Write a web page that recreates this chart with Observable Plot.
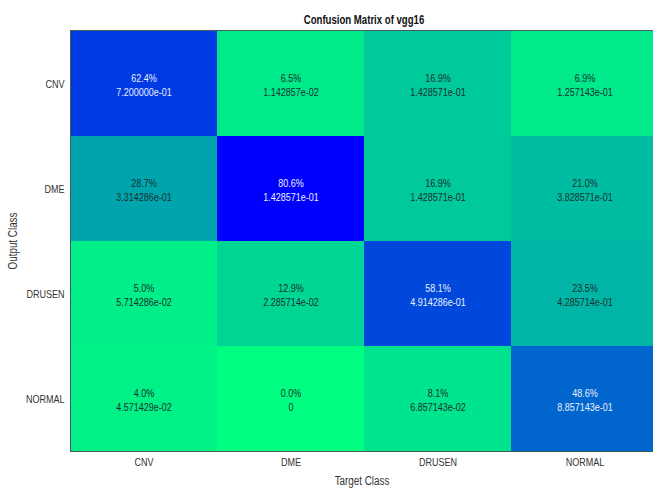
<!DOCTYPE html>
<html>
<head>
<meta charset="utf-8">
<script src="https://cdn.jsdelivr.net/npm/d3@7"></script>
<script src="https://cdn.jsdelivr.net/npm/@observablehq/plot@0.6"></script>
<style>
  html, body { margin: 0; padding: 0; background: #fff; }
  #wrap { width: 653px; height: 488px; overflow: hidden; position: relative; }
  #title { height: 30px; position: relative; }
  #title span { position: absolute; left: 364px; top: 12px; line-height: 16px;
           transform: translateX(-50%) scaleX(0.8); transform-origin: center;
           font-family: "Liberation Sans", Arial, sans-serif;
           font-weight: bold; font-size: 12px; color: #111; white-space: nowrap; }
</style>
</head>
<body>
<div id="wrap">
  <div id="title"><span>Confusion Matrix of vgg16</span></div>
  <div id="chart"></div>
</div>
<script>
const classes = ["CNV", "DME", "DRUSEN", "NORMAL"];
// rows = Output Class, columns = Target Class
const pctCNV    = [62.4, 6.5, 16.9, 6.9];
const pctDME    = [28.7, 80.6, 16.9, 21.0];
const pctDRUSEN = [5.0, 12.9, 58.1, 23.5];
const pctNORMAL = [4.0, 0.0, 8.1, 48.6];
const valCNV    = [7.200000e-01, 1.142857e-02, 1.428571e-01, 1.257143e-01];
const valDME    = [3.314286e-01, 1.428571e-01, 1.428571e-01, 3.828571e-01];
const valDRUSEN = [5.714286e-02, 2.285714e-02, 4.914286e-01, 4.285714e-01];
const valNORMAL = [4.571429e-02, 0, 6.857143e-02, 8.857143e-01];

const pctRows = [pctCNV, pctDME, pctDRUSEN, pctNORMAL];
const valRows = [valCNV, valDME, valDRUSEN, valNORMAL];

const cells = [];
classes.forEach((out, i) => classes.forEach((tgt, j) => {
  cells.push({output: out, target: tgt, pct: pctRows[i][j], val: valRows[i][j]});
}));

function fmtExp(v) {
  if (v === 0) return "0";
  const [m, e] = v.toExponential(6).split("e");
  const sign = e[0] === "-" ? "-" : "+";
  const digits = e.replace(/[+-]/, "").padStart(2, "0");
  return m + "e" + sign + digits;
}

const maxPct = d3.max(cells, d => d.pct);
const font = '"Liberation Sans", Arial, sans-serif';
const textFill = d => d.pct > 40 ? "#e8f0ff" : "#1a3030";

const chart = Plot.plot({
  width: 653,
  height: 458,
  marginTop: 0,
  marginLeft: 70,
  marginRight: 0,
  marginBottom: 37,
  style: {fontFamily: font, fontSize: "11px", color: "#333", background: "#fff"},
  x: {type: "band", domain: classes, range: [70, 658], padding: 0, label: "Target Class",
      labelAnchor: "center", labelArrow: "none", labelOffset: 33, tickSize: 0, tickPadding: 7},
  y: {type: "band", domain: classes, range: [0, 421], padding: 0, label: "Output Class",
      labelAnchor: "center", labelArrow: "none", labelOffset: 62, tickSize: 0, tickPadding: 6},
  color: {type: "linear", domain: [0, maxPct], range: ["#00ff80", "#0000ff"], interpolate: "rgb"},
  marks: [
    Plot.cell(cells, {x: "target", y: "output", fill: "pct", inset: 0}),
    Plot.text(cells, {x: "target", y: "output", text: d => d.pct.toFixed(1) + "%", dy: -6, fill: textFill, fontSize: 11}),
    Plot.text(cells, {x: "target", y: "output", text: d => fmtExp(d.val), dy: 8, fill: textFill, fontSize: 11}),
    Plot.frame({anchor: "top", stroke: "#3f5f55"}),
    Plot.frame({anchor: "bottom", stroke: "#3f5f55"}),
    Plot.frame({anchor: "left", stroke: "#3f5f55"})
  ]
});
chart.querySelectorAll("g[aria-label='x-axis label'] text, g[aria-label='y-axis label'] text").forEach(t => t.style.fontSize = "12px");
document.getElementById("chart").appendChild(chart);
// condense glyphs horizontally to mimic the narrow font of the reference
chart.querySelectorAll("text").forEach(t => {
  const len = t.getComputedTextLength();
  if (len > 0) {
    t.setAttribute("textLength", (len * 0.82).toFixed(1));
    t.setAttribute("lengthAdjust", "spacingAndGlyphs");
  }
});
</script>
</body>
</html>
